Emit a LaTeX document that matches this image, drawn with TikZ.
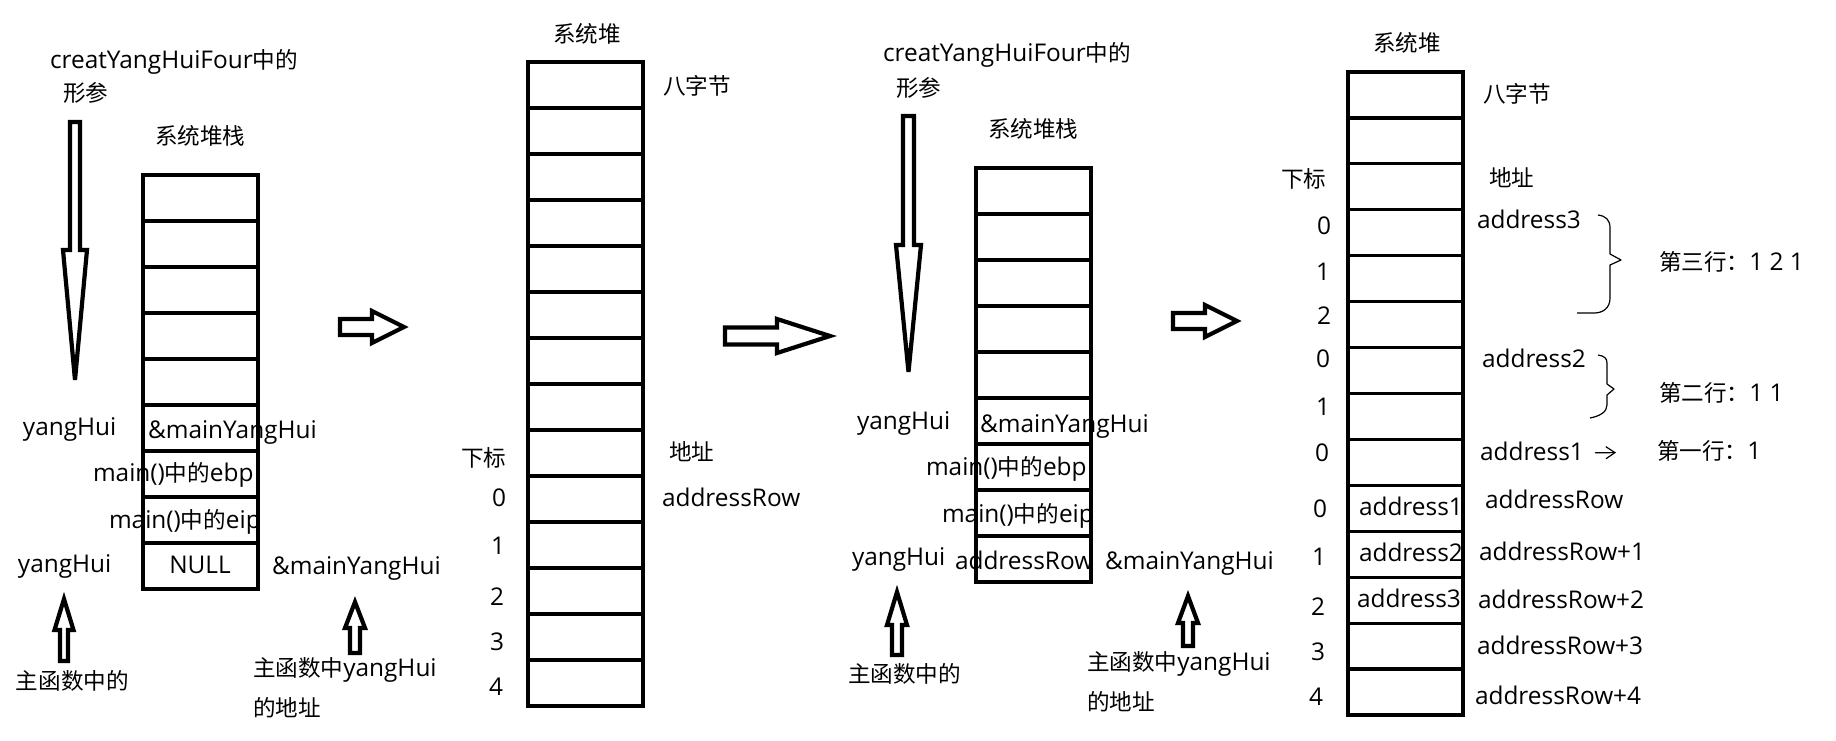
\documentclass[tikz,border=0pt]{standalone}
\usepackage{fontspec}
\setmainfont{Open Sans}
\newfontfamily\cjk{Noto Sans CJK SC}[Scale=0.925]
\usetikzlibrary{arrows.meta}
\begin{document}
\begin{tikzpicture}[x=0.5pt,y=-0.5pt,
  font=\fontsize{12.2}{14}\selectfont,
  cell/.style={draw, line width=1.6pt, minimum width=57.5pt, minimum height=23pt, inner sep=0pt, outer sep=0pt},
  cellb/.style={cell, minimum height=22.96pt},
  txt/.style={inner sep=0pt, outer sep=0pt, text height=0.8em, text depth=0.1em, anchor=west},
  idx/.style={txt, anchor=center},
  blk/.style={draw, line width=2.1pt, line join=miter, fill=white},
  brace/.style={draw, line width=0.6pt, line join=round}]
\useasboundingbox (0,0) rectangle (1836,740);

% ---------------- Panel 1 ----------------
\foreach \i in {1,...,9}
  \node[cell] (a\i) at (200.5,{175+46*(\i-0.5)}) {};
\node[txt] (p1t1) at (50,61) {creatYangHuiFour{\cjk 中的}};
\node[txt] (p1t2) at (63,94) {\cjk 形参};
\node[txt] (p1t3) at (155,137) {\cjk 系统堆栈};
\node[txt] (p1c6) at (148,431) {\&mainYangHui};
\node[txt] (p1c7) at (93,474) {main(){\cjk 中的}ebp};
\node[txt] (p1c8) at (109,521) {main(){\cjk 中的}eip};
\node[idx] (p1c9) at (200,566) {NULL};
\node[txt] (p1y1) at (23,428) {yangHui};
\node[txt] (p1y2) at (18,565) {yangHui};
\node[txt] (p1m) at (272,567) {\&mainYangHui};
\node[txt] (p1z) at (16,682) {\cjk 主函数中的};
\node[txt] (p1w1) at (253,669) {{\cjk 主函数中}yangHui};
\node[txt] (p1w2) at (253,709) {\cjk 的地址};
% block arrows
\draw[blk] (70,122) -- (80,122) -- (80,250) -- (87,250) -- (75,380) -- (63,250) -- (70,250) -- cycle;
\draw[blk] (64,599) -- (73.5,630) -- (68,630) -- (68,661) -- (60,661) -- (60,630) -- (54.5,630) -- cycle;
\draw[blk] (355,602) -- (365,628) -- (360,628) -- (360,653) -- (350,653) -- (350,628) -- (345,628) -- cycle;
\draw[blk] (340,319) -- (372,319) -- (372,311) -- (404,327) -- (372,343) -- (372,335) -- (340,335) -- cycle;

% ---------------- Panel 2 ----------------
\foreach \i in {1,...,14}
  \node[cell] (b\i) at (585.5,{62+46*(\i-0.5)}) {};
\node[txt] (p2t) at (553,35) {\cjk 系统堆};
\node[txt] (p2b) at (663,87) {\cjk 八字节};
\node[txt] (p2x) at (461,459) {\cjk 下标};
\node[txt] (p2d) at (669,453) {\cjk 地址};
\node[txt] (p2r) at (662,499) {addressRow};
\node[idx] (p2i0) at (499,499) {0};
\node[idx] (p2i1) at (498,547) {1};
\node[idx] (p2i2) at (497,598) {2};
\node[idx] (p2i3) at (497,643) {3};
\node[idx] (p2i4) at (496,688) {4};
\draw[blk] (725,327.5) -- (777,327.5) -- (777,319) -- (830,336) -- (777,353) -- (777,344.5) -- (725,344.5) -- cycle;

% ---------------- Panel 3 ----------------
\foreach \i in {1,...,9}
  \node[cell] (c\i) at (1033.5,{168+46*(\i-0.5)}) {};
\node[txt] (p3t1) at (883,54) {creatYangHuiFour{\cjk 中的}};
\node[txt] (p3t2) at (896,89) {\cjk 形参};
\node[txt] (p3t3) at (988,130) {\cjk 系统堆栈};
\node[txt] (p3y1) at (857,422) {yangHui};
\node[txt] (p3c6) at (980,425) {\&mainYangHui};
\node[txt] (p3c7) at (926,468) {main(){\cjk 中的}ebp};
\node[txt] (p3c8) at (942,515) {main(){\cjk 中的}eip};
\node[txt] (p3y2) at (852,558) {yangHui};
\node[txt] (p3c9) at (955,562) {addressRow};
\node[txt] (p3m) at (1105,562) {\&mainYangHui};
\node[txt] (p3z) at (848,675) {\cjk 主函数中的};
\node[txt] (p3w1) at (1087,663) {{\cjk 主函数中}yangHui};
\node[txt] (p3w2) at (1087,703) {\cjk 的地址};
\draw[blk] (903,116) -- (914,116) -- (914,245) -- (921,245) -- (908.5,372) -- (896,245) -- (903,245) -- cycle;
\draw[blk] (897,592) -- (907,625) -- (902,625) -- (902,655) -- (892,655) -- (892,625) -- (887,625) -- cycle;
\draw[blk] (1188,596) -- (1198,623) -- (1193,623) -- (1193,646) -- (1183,646) -- (1183,623) -- (1178,623) -- cycle;
\draw[blk] (1173,313) -- (1205,313) -- (1205,305) -- (1237,321) -- (1205,337) -- (1205,329) -- (1173,329) -- cycle;

% ---------------- Panel 4 ----------------
\foreach \i in {1,...,14}
  \node[cellb] (d\i) at (1405.5,{72+45.93*(\i-0.5)}) {};
\node[txt] (p4t) at (1373,44) {\cjk 系统堆};
\node[txt] (p4b) at (1483,95) {\cjk 八字节};
\node[txt] (p4x) at (1281,180) {\cjk 下标};
\node[txt] (p4d) at (1489,179) {\cjk 地址};
\node[idx] (p4i1) at (1324,227) {0};
\node[idx] (p4i2) at (1323,273) {1};
\node[idx] (p4i3) at (1324,317) {2};
\node[idx] (p4i4) at (1323,360) {0};
\node[idx] (p4i5) at (1323,408) {1};
\node[idx] (p4i6) at (1322,454) {0};
\node[idx] (p4i7) at (1320,510) {0};
\node[idx] (p4i8) at (1319,558) {1};
\node[idx] (p4i9) at (1318,608) {2};
\node[idx] (p4i10) at (1318,653) {3};
\node[idx] (p4i11) at (1316,698) {4};
\node[txt] (p4a3) at (1477,221) {address3};
\node[txt] (p4a2) at (1482,360) {address2};
\node[txt] (p4a1) at (1480,453) {address1};
\node[txt] (p4r3) at (1659,263) {{\cjk 第三行：}1 2 1};
\node[txt] (p4r2) at (1659,394) {{\cjk 第二行：}1 1};
\node[txt] (p4r1) at (1657,452) {{\cjk 第一行：}1};
\node[txt] (p4c10) at (1359,508) {address1};
\node[txt] (p4c11) at (1359,554) {address2};
\node[txt] (p4c12) at (1357,600) {address3};
\node[txt] (p4w0) at (1485,501) {addressRow};
\node[txt] (p4w1) at (1479,553) {addressRow+1};
\node[txt] (p4w2) at (1478,601) {addressRow+2};
\node[txt] (p4w3) at (1477,647) {addressRow+3};
\node[txt] (p4w4) at (1475,697) {addressRow+4};
% braces
\draw[brace] (1598,215) .. controls (1606,216) and (1610,220) .. (1610,228) -- (1610,254) -- (1621,260) -- (1610,265) -- (1610,298) .. controls (1610,308) and (1603,313) .. (1594,313) -- (1577,313);
\draw[brace] (1598,355) .. controls (1604,356) and (1607,358) .. (1607,363) -- (1607,384) -- (1614,389) -- (1607,395) -- (1607,405) .. controls (1607,412) and (1600,416) .. (1590,418);
% small arrow
\draw[line width=0.6pt, -{Straight Barb[length=4.5pt,width=6pt]}, shorten <=5.5pt, shorten >=20.5pt] (p4a1.east) -- (p4r1.west);
\end{tikzpicture}
\end{document}
